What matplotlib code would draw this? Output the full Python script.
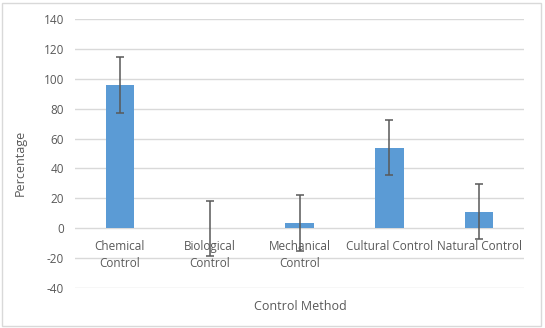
import matplotlib
matplotlib.use("Agg")
import matplotlib.pyplot as plt
from matplotlib.patches import Rectangle

categories = ["Chemical\nControl", "Biological\nControl", "Mechanical\nControl", "Cultural Control", "Natural Control"]
values = [96, 0, 3.5, 54, 11]
errors = [18.7, 18.5, 18.5, 18.6, 18.3]
yticks = [-40, -20, 0, 20, 40, 60, 80, 100, 120, 140]

plt.rcParams['font.family'] = ['Open Sans', 'DejaVu Sans']
text_col = "#595959"

fig = plt.figure(figsize=(5.45, 3.28), dpi=100)
ax = fig.add_axes([75/545, 1-288/328, (524-75)/545, (288-19)/328])

x = list(range(len(categories)))
ax.bar(x, values, width=0.32, color="#5B9BD5", zorder=2)
ax.errorbar(x, values, yerr=errors, fmt="none", ecolor="#595959", elinewidth=1.1,
            capsize=3, capthick=1.1, zorder=3)

ax.set_xlim(-0.5, len(categories) - 0.5)
ax.set_ylim(-40, 140)
ax.set_yticks(yticks)
ax.set_yticklabels([str(t) for t in yticks], fontsize=8.5, color=text_col)
ax.set_xticks([])
ax.tick_params(axis='y', length=0, pad=8)
ax.grid(axis='y', color="#D9D9D9", linewidth=1, zorder=0)
ax.set_axisbelow(True)
for s in ax.spines.values():
    s.set_visible(False)

for i, c in enumerate(categories):
    ax.annotate(c, xy=(i, 0), xytext=(0, -8.5), textcoords='offset points',
                ha='center', va='top', fontsize=8.5, color=text_col, linespacing=1.4)

fig.text(20/545, 1-163/328, "Percentage", rotation=90, ha='center', va='center',
         fontsize=9, color=text_col)
fig.text(300/545, 1-306/328, "Control Method", ha='center', va='center',
         fontsize=9, color=text_col)

fig.patches.append(Rectangle((2/545, 2/328), 539/545, 323/328, transform=fig.transFigure,
                             fill=False, edgecolor="#D9D9D9", linewidth=1))

fig.savefig("out.png", dpi=100, facecolor="white")
